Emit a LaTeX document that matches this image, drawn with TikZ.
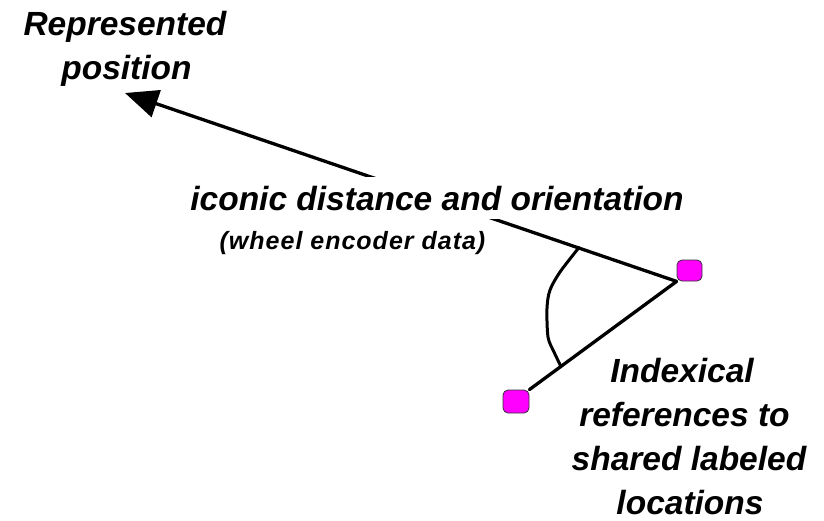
\documentclass[tikz,border=0pt]{standalone}
\usepackage{fontspec}
\setmainfont{Liberation Sans}
\newfontfamily\lblfont{Liberation Sans}
\newfontfamily\smallfont[LetterSpace=4]{Liberation Sans}
\usetikzlibrary{arrows.meta}
\definecolor{pinkfill}{HTML}{FF00FF}
\tikzset{
  biglabel/.style={anchor=base, inner sep=0pt,
    font=\lblfont\bfseries\itshape\fontsize{33.5}{44}\selectfont},
  smalllabel/.style={anchor=base, inner sep=0pt,
    font=\smallfont\bfseries\itshape\fontsize{25}{28}\selectfont},
  place/.style={draw=black!80, line width=0.8pt, fill=pinkfill,
    rounded corners=5pt, inner sep=0pt},
  link/.style={line width=3.3pt, line cap=round}
}
\begin{document}
\begin{tikzpicture}[x=1pt, y=-1pt]
\useasboundingbox (0,0) rectangle (824,520);
\fill[white] (0,0) rectangle (824,520);

% the two labelled places
\node[place, minimum width=25pt, minimum height=21pt] (ub) at (689.5,270.5) {};
\node[place, minimum width=26pt, minimum height=23pt] (lb) at (516,401.5) {};
\coordinate (tip) at (125,93);

% connectors out of the upper place
\draw[link, -{Triangle[length=33pt,width=28pt]}] (ub.south west) -- (tip);
\draw[link] (ub.south west) -- (lb.north east);

% angle between the two references
\draw[line width=3pt, line cap=round, line join=round]
  plot[smooth, tension=0.5] coordinates {(579,247.5) (560,272) (550,290) (547,308) (548,337) (554,352) (561,366.5)};

% labels
\node[biglabel] (rp1) at (125,35) {Represented};
\node[biglabel] (rp2) at (126.5,79) {position};

\node[biglabel, fill=white, inner xsep=3pt, inner ysep=9pt,
      text height=24pt, text depth=0pt] (icon) at (437,210)
  {iconic distance and orientation};
\node[smalllabel] (wheel) at (352.5,249) {(wheel encoder data)};

\node[biglabel] (ix1) at (682,382) {Indexical};
\node[biglabel] (ix2) at (684.5,426) {references to};
\node[biglabel] (ix3) at (689,470) {shared labeled};
\node[biglabel] (ix4) at (690,514) {locations};
\end{tikzpicture}
\end{document}
